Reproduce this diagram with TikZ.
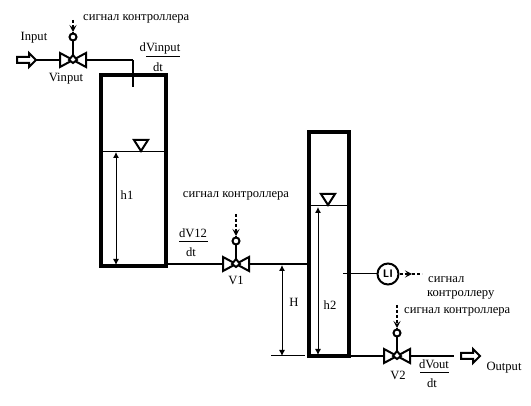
\documentclass[tikz,border=0pt]{standalone}
\usepackage{fontspec}
\usepackage{amsmath}
\setmainfont{Liberation Serif}
\usetikzlibrary{arrows.meta}
\tikzset{
    wall/.style={line width=3.4pt},
    pipe/.style={line width=1.8pt},
    thin line/.style={line width=1pt},
    dim/.style={line width=0.9pt,{Latex[length=6pt,width=6pt]}-{Latex[length=6pt,width=6pt]}},
    signal/.style={line width=1.2pt,dash pattern=on 3pt off 2pt},
    sigtip/.style={signal,-{Stealth[length=7pt,width=7pt,inset=3pt]}},
    ctrl/.style={draw,circle,line width=2pt,inner sep=0pt,minimum size=7pt,fill=white},
    vtri/.style={draw,fill=white,line width=2pt,line join=miter},
    txt/.style={font=\fontsize{12.6}{12.6}\selectfont,inner sep=0pt}
}
\newcommand{\ratefrac}[4]{
    \node[txt] at (#1,#2-9) {#3};
    \node[txt] at (#1-2,#2+10) {dt};
    \draw[thin line] (#1-14,#2) -- (#1+14+#4,#2);
}
\begin{document}
\begin{tikzpicture}[x=1pt,y=-1pt]
    \useasboundingbox (0,0) rectangle (531,406);
    \coordinate (inA) at (36,60);
    \coordinate (inB) at (133,60);
    \coordinate (inC) at (133,87);
    \coordinate (tankAsw) at (101,266);
    \coordinate (tankAne) at (166,75);
    \coordinate (tankBsw) at (309,356);
    \coordinate (tankBne) at (349,132);
    \coordinate (levelAl) at (101,152);
    \coordinate (levelAr) at (166,152);
    \coordinate (levelBl) at (309,206);
    \coordinate (levelBr) at (349,206);
    \coordinate (baseAh) at (116,265);
    \coordinate (topAh) at (116,152);
    \coordinate (topBh) at (318,207);
    \coordinate (baseBh) at (318,355);
    \coordinate (pipeAl) at (166,264);
    \coordinate (pipeAr) at (308,264);
    \coordinate (topH) at (282,265);
    \coordinate (baseH) at (282,356);
    \coordinate (baseHl) at (271,356);
    \coordinate (baseHr) at (305,356);
    \coordinate (outA) at (349,356);
    \coordinate (outB) at (454,356);
    \coordinate (tapLI) at (343,274);
    % pipes
    \draw[pipe] (inA) -- (inB);
    \draw[pipe] (inB) -- (inC);
    \draw[pipe] (pipeAl) -- (pipeAr);
    \draw[pipe] (outA) -- (outB);
    % tanks
    \draw[wall] (tankAsw) rectangle (tankAne);
    \draw[wall] (tankBsw) rectangle (tankBne);
    \draw[thin line] (levelAl) -- (levelAr);
    \draw[thin line] (levelBl) -- (levelBr);
    \foreach \x/\y in {141/151,328/205}
        \draw[line width=2pt,fill=white] (\x,\y) -- (\x-7,\y-11) -- (\x+7,\y-11) -- cycle;
    % levels
    \draw[dim] (topAh) -- (baseAh);
    \draw[dim] (topBh) -- (baseBh);
    \draw[dim] (topH) -- (baseH);
    \draw[thin line] (baseHl) -- (baseHr);
    % valves and their drives
    \foreach \x/\y/\t in {73/60/20,236/264/214,397/356/305} {
        \node[ctrl] (drive\x) at (\x,\y-23) {};
        \draw[pipe] (drive\x) -- (\x,\y);
        \draw[vtri] (\x,\y) -- (\x-13,\y-7) -- (\x-13,\y+7) -- cycle;
        \draw[vtri] (\x,\y) -- (\x+13,\y-7) -- (\x+13,\y+7) -- cycle;
        \draw[vtri] (\x,\y-5) -- (\x+4,\y) -- (\x,\y+3) -- (\x-4,\y) -- cycle;
        \coordinate (sigtop\x) at (\x,\t);
        \draw[sigtip] (sigtop\x) -- (\x,\y-28);
        \draw[signal] (\x,\y-28) -- (drive\x);
    }
    % indicator
    \node[draw,circle,line width=2pt,minimum size=21pt,inner sep=0pt,font=\fontsize{11}{11}\selectfont\bfseries\sffamily] (LI) at (388,274) {LI};
    \coordinate (sigLI) at (422,274);
    \coordinate (sigLIm) at (412,274);
    \draw[thin line] (tapLI) -- (LI);
    \draw[sigtip] (LI) -- (sigLIm);
    \draw[signal] (sigLIm) -- (sigLI);
    % in and out block arrows
    \foreach \x/\y in {17/60,461/356}
        \draw[line width=2pt,fill=white] (\x,\y-3) -- (\x+12,\y-3) -- (\x+12,\y-7) -- (\x+19,\y) -- (\x+12,\y+7) -- (\x+12,\y+3) -- (\x,\y+3) -- cycle;
    % labels
    \node[txt,anchor=west] at (83,19) {сигнал контроллера};
    \node[txt] at (236,196) {сигнал контроллера};
    \node[txt,anchor=west] at (404,312) {сигнал контроллера};
    \node[txt,anchor=west] at (428,280) {сигнал};
    \node[txt,anchor=west] at (427,295) {контроллеру};
    \node[txt] at (34,38) {Input};
    \node[txt] at (66,79) {Vinput};
    \node[txt] at (236,280) {V1};
    \node[txt] at (398,375) {V2};
    \node[txt] at (504,368) {Output};
    \node[txt] at (127,195) {h1};
    \node[txt] at (330,305) {h2};
    \node[txt] at (294,302) {H};
    \ratefrac{160}{57}{dVinput}{6}
    \ratefrac{193}{242}{dV12}{1}
    \ratefrac{434}{373}{dVout}{1}
\end{tikzpicture}
\end{document}
